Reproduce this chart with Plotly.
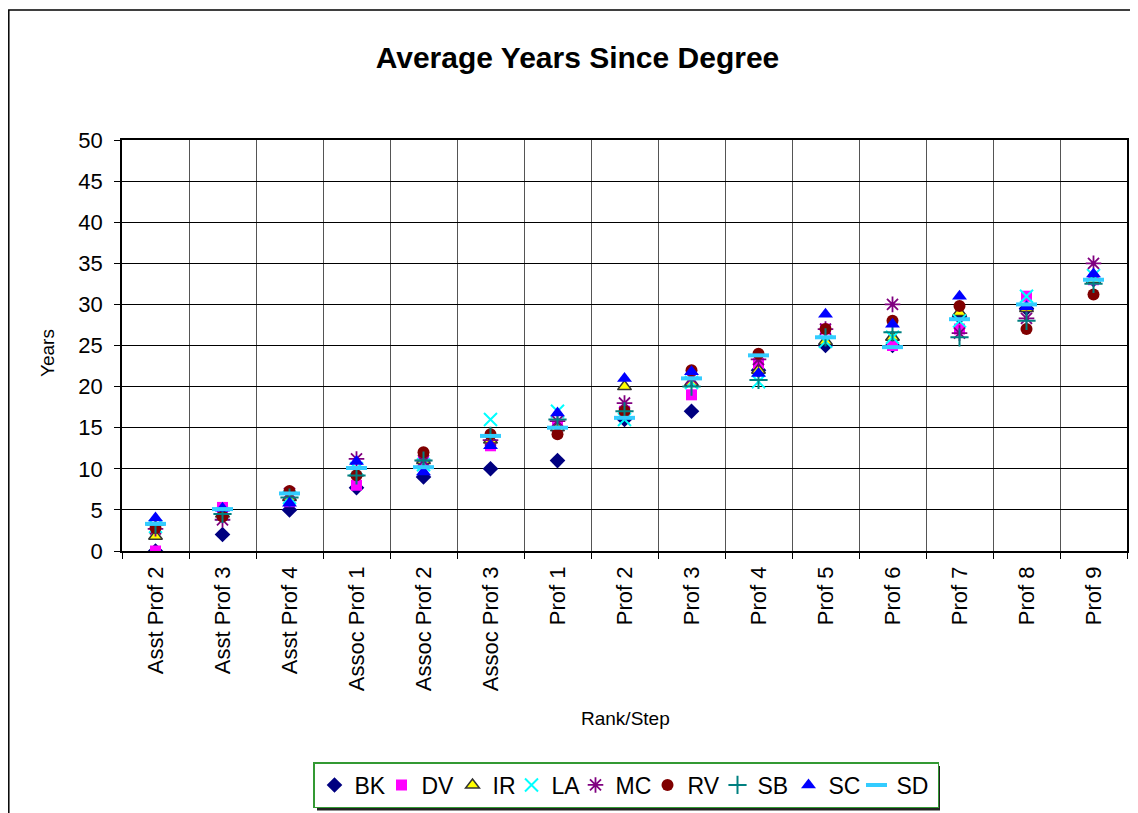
import plotly.graph_objects as go

categories = ["Asst Prof 2", "Asst Prof 3", "Asst Prof 4", "Assoc Prof 1", "Assoc Prof 2",
              "Assoc Prof 3", "Prof 1", "Prof 2", "Prof 3", "Prof 4", "Prof 5", "Prof 6",
              "Prof 7", "Prof 8", "Prof 9"]

BK = [0, 2, 5, 7.7, 9, 10, 11, 16, 17, 22, 25, 25, 28.5, 29.5, 33]
DV = [0, 5.3, 6, 8, 10.8, 12.8, 15.2, 17, 19, 22.8, 27, 25, 27, 31, 33]
IR = [1.8, 4.5, 6.5, 9.5, 11, 13.5, 15, 20, 20.5, 22, 25.5, 26, 29, 29.5, 33]
LA = [3, 4.5, 6.5, 10, 10.5, 16, 17, 16, 20.5, 20.6, 25.5, 26, 28, 31, 33.5]
MC = [2.7, 3.8, 7, 11.2, 11, 13.5, 15.8, 18, 21, 23.3, 27, 30, 26.5, 28.3, 35]
RV = [2.8, 4.2, 7.3, 9.2, 12, 14.2, 14.2, 17, 22, 24, 27, 28, 29.8, 27, 31.2]
SB = [3.2, 4.5, 6.5, 9.2, 11, 14, 16, 17, 20, 20.8, 26, 26.6, 26, 28, 32.5]
SC = [4, 5.2, 5.8, 10.9, 9.6, 12.8, 16.8, 21, 21.8, 21.6, 28.8, 27.6, 31, 29.7, 33.7]
SD = [3.3, 5.1, 7, 10.1, 10.2, 14, 15, 16.2, 21, 23.8, 26, 24.8, 28.2, 30, 33]

# (name, values, marker style, legend entry width in px)
series = [
    ("BK", BK, dict(symbol="diamond", color="#000080", size=12), 22),
    ("DV", DV, dict(symbol="square", color="#FF00FF", size=11), 26),
    ("IR", IR, dict(symbol="triangle-up", color="#FFFF00", size=12,
                    line=dict(color="#333333", width=1.5)), 14),
    ("LA", LA, dict(symbol="x-thin-open", color="#00FFFF", size=13,
                    line=dict(color="#00FFFF", width=2)), 19),
    ("MC", MC, dict(symbol="asterisk-open", color="#800080", size=13,
                    line=dict(color="#800080", width=1.8)), 27),
    ("RV", RV, dict(symbol="circle", color="#800000", size=12), 25),
    ("SB", SB, dict(symbol="cross-thin-open", color="#008080", size=13,
                    line=dict(color="#008080", width=2)), 26),
    ("SC", SC, dict(symbol="triangle-up", color="#0000FF", size=13), 23),
    ("SD", SD, dict(symbol="line-ew-open", color="#33CCFF", size=15,
                    line=dict(color="#33CCFF", width=4)), 36),
]

xs = list(range(len(categories)))
fig = go.Figure()
for name, vals, mk, lw in series:
    fig.add_trace(go.Scatter(x=xs, y=vals, mode="markers", name=name, marker=mk,
                             legendwidth=lw))

font_family = "Arial, Liberation Sans, sans-serif"

# page is offset by the 8px body margin; plot area spans page x 122-1127, y 140-551
W, H = 1130, 805
PL, PT, PW, PH = 114, 132, 1005, 411


def px(xpage):
    return (xpage - 8 - PL) / PW


def py(ypage):
    return (PT + PH - (ypage - 8)) / PH


fig.update_layout(
    width=W, height=H,
    margin=dict(l=PL, r=W - PL - PW, t=PT, b=H - PT - PH, autoexpand=False),
    paper_bgcolor="white", plot_bgcolor="white",
    font=dict(family=font_family, color="black"),
    title=dict(text="<b>Average Years Since Degree</b>", x=px(577.5), xanchor="center",
               xref="paper", y=1 - 49 / H, yanchor="middle",
               font=dict(size=30, family=font_family)),
    showlegend=True,
    legend=dict(orientation="h", x=px(313), xanchor="left", y=py(762), yanchor="top",
                bordercolor="#339933", borderwidth=1.5, bgcolor="white",
                font=dict(size=23, family=font_family), itemwidth=30,
                tracegroupgap=0),
    xaxis=dict(range=[-0.5, len(categories) - 0.5], tickmode="array", tickvals=xs,
               ticktext=categories, tickangle=-90, tickfont=dict(size=22),
               showgrid=False, showline=True, linecolor="black", linewidth=1.5,
               mirror=True, ticks="", zeroline=False, ticklabelstandoff=5,
               minor=dict(tickmode="linear", tick0=0.5, dtick=1, showgrid=True,
                          gridcolor="#555555", gridwidth=1, ticks="outside",
                          ticklen=6, tickcolor="black")),
    yaxis=dict(range=[0, 50], dtick=5, tickfont=dict(size=22), showgrid=True,
               gridcolor="black", gridwidth=1, showline=True, linecolor="black",
               linewidth=1.5, mirror=True, ticks="outside", ticklen=6,
               tickcolor="black", zeroline=False, ticklabelstandoff=7),
    annotations=[
        dict(text="Rank/Step", xref="paper", yref="paper", x=px(625), y=py(718),
             xanchor="center", yanchor="middle", showarrow=False,
             font=dict(size=19, family=font_family)),
        dict(text="Years", xref="paper", yref="paper", x=px(47), y=py(353),
             xanchor="center", yanchor="middle", showarrow=False, textangle=-90,
             font=dict(size=19, family=font_family)),
    ],
    shapes=[
        dict(type="rect", xref="paper", yref="paper",
             x0=px(8.8), x1=px(1150), y0=py(830), y1=py(10),
             line=dict(color="black", width=1.5), fillcolor="rgba(0,0,0,0)",
             layer="below"),
        # legend drop shadow
        dict(type="rect", xref="paper", yref="paper",
             x0=px(317), x1=px(940), y0=py(810.5), y1=py(766),
             line=dict(width=0), fillcolor="#222222", layer="below"),
    ],
)

fig.write_html("out.html")
